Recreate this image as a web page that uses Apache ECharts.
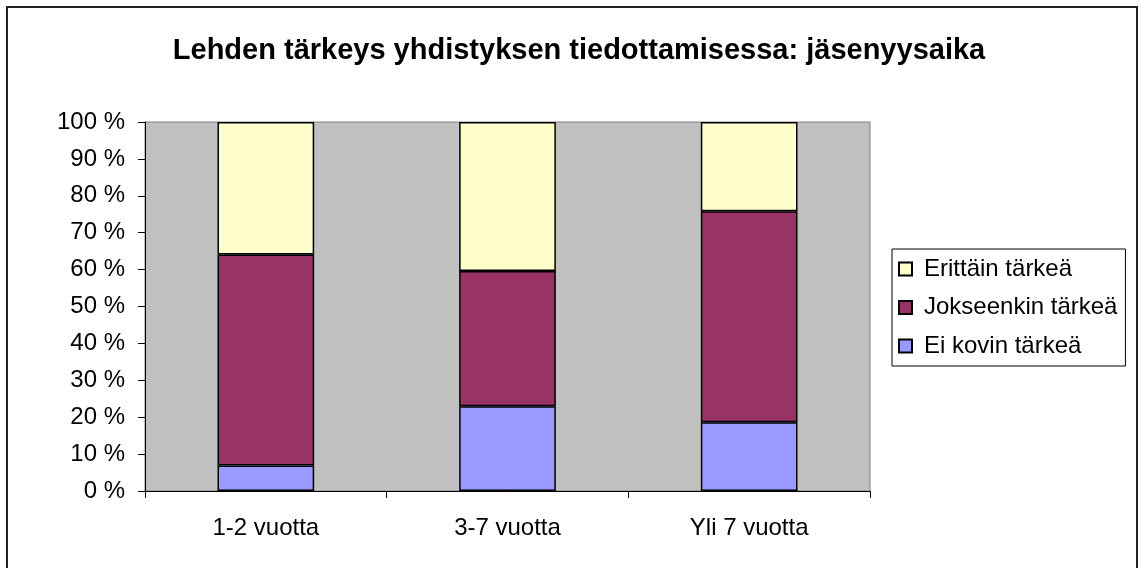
<!DOCTYPE html>
<html>
<head>
<meta charset="utf-8">
<script src="https://cdn.jsdelivr.net/npm/echarts@6/dist/echarts.min.js"></script>
<style>
  html, body { margin: 0; padding: 0; background: #fff; }
  #chart { width: 1139px; height: 568px; }
</style>
</head>
<body>
<div id="chart"></div>
<script>
var categories = ['1-2 vuotta', '3-7 vuotta', 'Yli 7 vuotta'];
var eiKovin = [6.9, 23.0, 18.6];
var jokseenkin = [57.2, 36.6, 57.2];
var erittain = [35.9, 40.4, 24.2];
var yTicks = [0, 10, 20, 30, 40, 50, 60, 70, 80, 90, 100];

var dom = document.getElementById("chart");
var myChart = echarts.init(dom);
var font = 'Liberation Sans, Arial, sans-serif';

var barStyle = function (color) {
    return { color: color, borderColor: '#000', borderWidth: 1.5 };
};

option = {
    animation: false,
    title: {
        text: 'Lehden tärkeys yhdistyksen tiedottamisessa: jäsenyysaika',
        left: 574,
        textAlign: 'center',
        top: 31,
        textStyle: { fontFamily: font, fontSize: 29, fontWeight: 'bold', color: '#000' }
    },
    graphic: [{
        type: 'rect',
        shape: { x: 7, y: 7, width: 1130, height: 575 },
        style: { fill: 'none', stroke: '#222', lineWidth: 2 },
        silent: true
    }],
    legend: {
        data: ['Erittäin tärkeä', 'Jokseenkin tärkeä', 'Ei kovin tärkeä'],
        orient: 'vertical',
        left: 892,
        top: 249,
        icon: 'rect',
        itemWidth: 13,
        itemHeight: 13,
        itemGap: 14.5,
        padding: [8, 8, 8, 6],
        borderColor: '#000',
        borderWidth: 1,
        backgroundColor: '#fff',
        textStyle: { fontFamily: font, fontSize: 24, color: '#000', lineHeight: 22, padding: [0, 0, 0, 7] }
    },
    grid: {
        left: 145,
        right: 269,
        top: 122,
        bottom: 77,
        show: true,
        backgroundColor: '#C0C0C0',
        borderColor: '#808080',
        borderWidth: 1
    },
    xAxis: {
        type: 'category',
        data: categories,
        axisLine: { lineStyle: { color: '#000', width: 1 } },
        axisTick: { show: true, length: 7, lineStyle: { color: '#000' } },
        axisLabel: { margin: 25, fontFamily: font, fontSize: 24, color: '#000' }
    },
    yAxis: {
        type: 'value',
        min: yTicks[0],
        max: yTicks[yTicks.length - 1],
        interval: 10,
        axisLine: { show: true, lineStyle: { color: '#000', width: 1 } },
        axisTick: { show: true, length: 7, lineStyle: { color: '#000' } },
        splitLine: { show: false },
        axisLabel: { margin: 20, fontFamily: font, fontSize: 24, color: '#000', formatter: '{value} %' }
    },
    series: [
        {
            name: 'Ei kovin tärkeä',
            type: 'bar',
            stack: 'total',
            barWidth: '40%',
            itemStyle: barStyle('#9999FF'),
            data: eiKovin
        },
        {
            name: 'Jokseenkin tärkeä',
            type: 'bar',
            stack: 'total',
            itemStyle: barStyle('#993366'),
            data: jokseenkin
        },
        {
            name: 'Erittäin tärkeä',
            type: 'bar',
            stack: 'total',
            itemStyle: barStyle('#FFFFCC'),
            data: erittain
        }
    ]
};
if (option && typeof option === "object") {
    myChart.setOption(option, true);
}
</script>
</body>
</html>
